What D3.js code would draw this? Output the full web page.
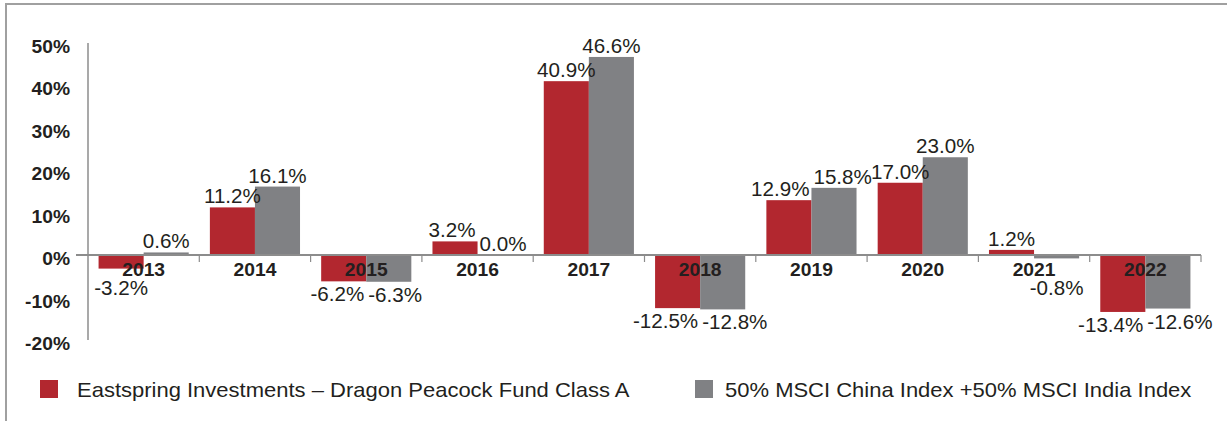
<!DOCTYPE html>
<html>
<head>
<meta charset="utf-8">
<script src="https://cdn.jsdelivr.net/npm/d3@7"></script>
<style>
  body { margin: 0; background: #fff; }
  svg { display: block; font-family: "Liberation Sans", Arial, sans-serif; }
</style>
</head>
<body>
<script>
// data
const years = ["2013", "2014", "2015", "2016", "2017", "2018", "2019", "2020", "2021", "2022"];
const seriesNames = [
  "Eastspring Investments \u2013 Dragon Peacock Fund Class A",
  "50% MSCI China Index +50% MSCI India Index"
];
const fundValues  = [-3.2, 11.2, -6.2, 3.2, 40.9, -12.5, 12.9, 17.0, 1.2, -13.4];
const indexValues = [0.6, 16.1, -6.3, 0.0, 46.6, -12.8, 15.8, 23.0, -0.8, -12.6];
const yTicks = [-20, -10, 0, 10, 20, 30, 40, 50];
const colors = ["#b2272f", "#808184"];

const width = 1227, height = 421;
const ink = "#231f20";

const svg = d3.select("body").append("svg")
    .attr("width", width)
    .attr("height", height);

// frame
svg.append("path")
    .attr("d", "M6,421V4H1227")
    .attr("fill", "none")
    .attr("stroke", "#a0a0a0")
    .attr("stroke-width", 2);

var xScale = d3.scaleBand()
    .domain(years)
    .range([88, 1201])
    .paddingInner(0.19)
    .paddingOuter(0.095);

var x1 = d3.scaleBand()
    .domain([0, 1])
    .range([0, xScale.bandwidth()]);

var yScale = d3.scaleLinear()
    .domain([-20, 50])
    .range([340, 42.5]);

var rows = years.map(function(y, i) {
  return {year: y, vals: [fundValues[i], indexValues[i]]};
});

// y axis labels (text is a little stretched in the original)
var ySx = 1.1;
var yAxis = svg.append("g")
    .attr("transform", "translate(88,0)")
    .call(d3.axisLeft(yScale).tickValues(yTicks).tickSize(0).tickPadding(18)
      .tickFormat(function(d) { return d + "%"; }));
yAxis.select(".domain").remove();
yAxis.selectAll("text")
    .attr("font-size", 17.5)
    .attr("font-weight", "bold")
    .attr("font-family", "'Liberation Sans', Arial, sans-serif")
    .attr("fill", ink)
    .attr("x", -18 / ySx)
    .attr("dy", "0.56em")
    .attr("transform", "scale(" + ySx + ",1)");

svg.append("line")
    .attr("x1", 88).attr("x2", 88)
    .attr("y1", 43).attr("y2", 340)
    .attr("stroke", "#8c8c8c")
    .attr("stroke-width", 1.5);

// bars
var groups = svg.selectAll(".cat")
    .data(rows)
    .enter().append("g")
    .attr("class", "cat")
    .attr("transform", function(d) { return "translate(" + xScale(d.year) + ",0)"; });

groups.selectAll("rect")
    .data(function(d) { return d.vals.map(function(v, k) { return {k: k, v: v}; }); })
    .enter().append("rect")
    .attr("x", function(d) { return x1(d.k); })
    .attr("width", x1.bandwidth())
    .attr("y", function(d) { return yScale(Math.max(0, d.v)); })
    .attr("height", function(d) { return Math.abs(yScale(d.v) - yScale(0)); })
    .attr("fill", function(d) { return colors[d.k]; });

// zero line + category boundary ticks
var zero = yScale(0);
svg.append("line")
    .attr("x1", 76).attr("x2", 1201)
    .attr("y1", zero).attr("y2", zero)
    .attr("stroke", "#8c8c8c")
    .attr("stroke-width", 2);

var step = xScale.step();
svg.selectAll(".btick")
    .data(years)
    .enter().append("line")
    .attr("class", "btick")
    .attr("x1", function(d) { return xScale(d) - step * 0.095 + step; })
    .attr("x2", function(d) { return xScale(d) - step * 0.095 + step; })
    .attr("y1", zero).attr("y2", zero + 7)
    .attr("stroke", "#8c8c8c")
    .attr("stroke-width", 1.2);

// category labels
var xSx = 1.07;
var xAxis = svg.append("g")
    .attr("transform", "translate(0," + zero + ")")
    .call(d3.axisBottom(xScale).tickSize(0).tickPadding(8));
xAxis.select(".domain").remove();
xAxis.selectAll("text")
    .attr("font-size", 18)
    .attr("font-weight", "bold")
    .attr("font-family", "'Liberation Sans', Arial, sans-serif")
    .attr("fill", ink)
    .attr("transform", "scale(" + xSx + ",1)");

// value labels
var vSx = 1.03;
var fmt = function(v) { return v.toFixed(1) + "%"; };
var labelLayer = svg.append("g");
rows.forEach(function(r) {
  var labs = r.vals.map(function(v, k) {
    var cx = xScale(r.year) + x1(k) + x1.bandwidth() / 2;
    var yb = v >= 0 ? yScale(v) - 4 : Math.max(yScale(v) + 20, 295);
    var g = labelLayer.append("g")
        .attr("transform", "translate(" + cx + "," + yb + ") scale(" + vSx + ",1)");
    var t = g.append("text")
        .attr("text-anchor", "middle")
        .attr("font-size", 20)
        .attr("fill", ink)
        .text(fmt(v));
    return {g: g, cx: cx, y: yb, w: t.node().getComputedTextLength() * vSx};
  });
  var a = labs[0], b = labs[1];
  if (Math.abs(a.y - b.y) < 19) {
    var overlap = (a.cx + a.w / 2) - (b.cx - b.w / 2) + 4;
    if (overlap > 0) {
      a.g.attr("transform", "translate(" + (a.cx - overlap / 2) + "," + a.y + ") scale(" + vSx + ",1)");
      b.g.attr("transform", "translate(" + (b.cx + overlap / 2) + "," + b.y + ") scale(" + vSx + ",1)");
    }
  }
});

// legend
var legend = svg.append("g").attr("transform", "translate(0,380)");
var legX = [40, 695];
var legTextX = [77, 725];
seriesNames.forEach(function(name, k) {
  legend.append("rect")
      .attr("x", legX[k]).attr("y", 0)
      .attr("width", 18).attr("height", 18)
      .attr("fill", colors[k]);
  legend.append("g")
      .attr("transform", "translate(" + legTextX[k] + ",17) scale(1.1,1)")
    .append("text")
      .attr("font-size", 20)
      .attr("fill", ink)
      .text(name);
});
</script>
</body>
</html>
